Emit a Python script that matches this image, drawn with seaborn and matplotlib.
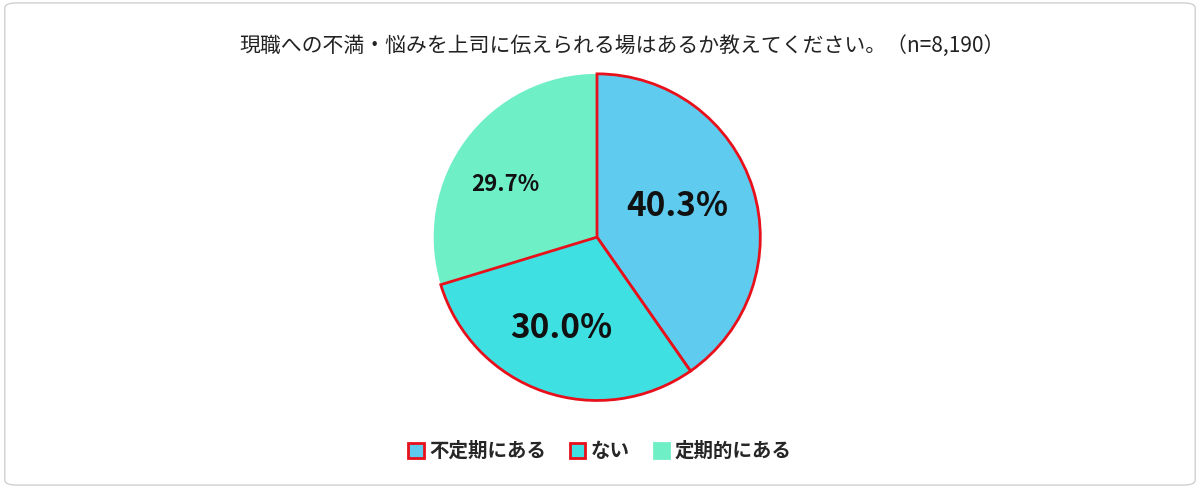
import matplotlib
matplotlib.use("Agg")
import matplotlib.pyplot as plt
import seaborn as sns
from matplotlib.patches import FancyBboxPatch, Patch

categories = ["不定期にある", "ない", "定期的にある"]
values = [40.3, 30.0, 29.7]
labels = ["40.3%", "30.0%", "29.7%"]
colors = ["#5ECBEF", "#3EE0E2", "#6EEFC6"]
edgecolors = ["#E8101A", "#E8101A", "#6EEFC6"]

sns.set_theme(style="white")
plt.rcParams['font.family'] = ['Noto Sans CJK JP', 'DejaVu Sans']

fig = plt.figure(figsize=(12, 4.88), dpi=100)
fig.patches.append(FancyBboxPatch((0.004, 0.006), 0.992, 0.988, boxstyle="round,pad=0,rounding_size=0.01",
                                  transform=fig.transFigure, fill=False, edgecolor="#D0D0D0", linewidth=1))
fig.text(0.518, 0.905, "現職への不満・悩みを上司に伝えられる場はあるか教えてください。（n=8,190）",
         ha="center", va="center", fontsize=15, color="#222222")

ax = fig.add_axes([0.36, 0.176, 0.275, 0.676])
wedges, _ = ax.pie(values, colors=colors, startangle=90, counterclock=False,
                   wedgeprops=dict(linewidth=2))
for w, ec in zip(wedges, edgecolors):
    w.set_edgecolor(ec)
wedges[2].set_linewidth(0)
wedges[2].set_zorder(0)
ax.set_xlim(-1.01, 1.01)
ax.set_ylim(-1.01, 1.01)
pos = [(0.49, 0.19), (-0.22, -0.56), (-0.56, 0.32)]
sizes = [24, 24, 16]
for (x, y), t, s in zip(pos, labels, sizes):
    ax.text(x, y, t, ha="center", va="center", fontsize=s, fontweight="bold", color="#111111")
ax.set_aspect("equal")

handles = [Patch(facecolor=c, edgecolor=e, linewidth=2) for c, e in zip(colors, edgecolors)]
fig.legend(handles, categories, loc="center", bbox_to_anchor=(0.5, 0.075), ncol=3, frameon=False,
           prop=dict(size=14, weight="bold"), handlelength=0.8, handleheight=0.8, columnspacing=1.2,
           handletextpad=0.3)
fig.savefig("out.png", dpi=100)
